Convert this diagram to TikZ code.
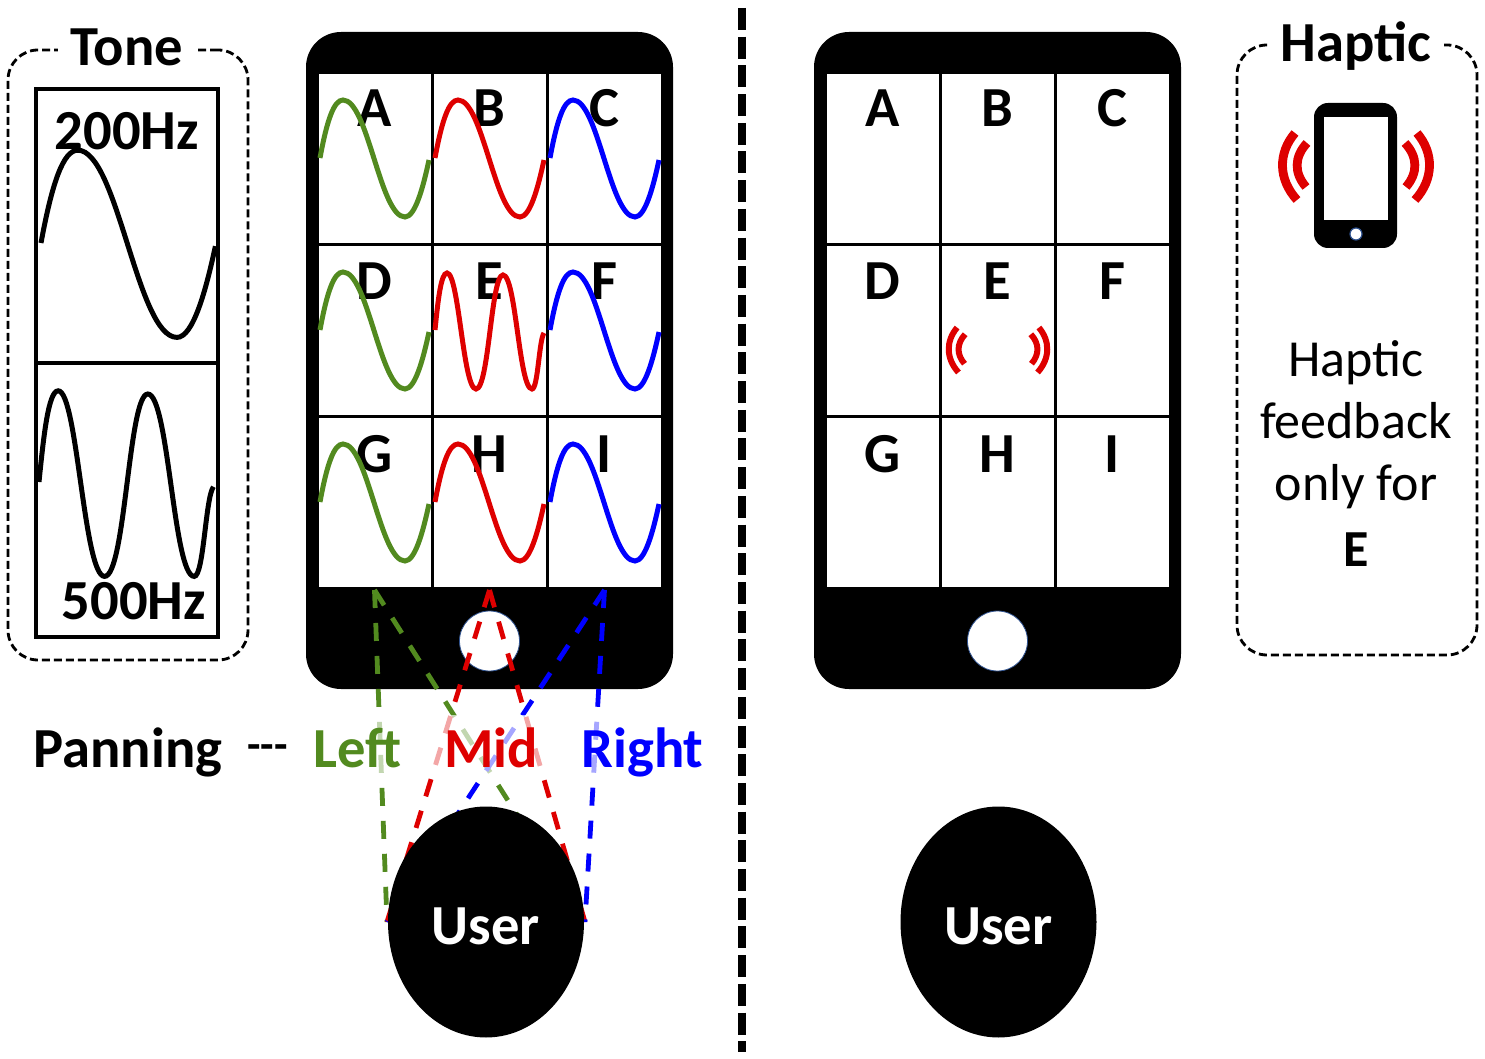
\documentclass[tikz,border=0pt]{standalone}
\usepackage{fontspec}
\setmainfont{Carlito}
\usetikzlibrary{shapes.geometric}
\definecolor{wgreen}{HTML}{528A1F}
\definecolor{wred}{HTML}{DE0000}
\definecolor{wblue}{HTML}{0000FF}
\definecolor{homeline}{HTML}{2F528F}
\tikzset{
  lowwave/.pic={\draw[line width=2.5pt] (0,0) .. controls (7,-38) and (14,-58) .. (23,-58)
    .. controls (48,-58) and (60,59) .. (85,59) .. controls (95,59) and (103,30) .. (109,2);},
  highwave/.pic={\draw[line width=2.5pt] (0,0) .. controls (3,-30) and (6,-57) .. (12,-57)
    .. controls (24,-57) and (28,59) .. (41,59) .. controls (54,59) and (56,-55) .. (68,-55)
    .. controls (81,-55) and (84,59) .. (97,59) .. controls (103,59) and (104,10) .. (109,3);},
  buzz/.pic={\draw[wred] (-61,-32) .. controls (-78,-12) and (-78,14) .. (-59,35);
    \draw[wred] (-49,-22) .. controls (-62,-8) and (-62,8) .. (-50,22);}
}
\begin{document}
\begin{tikzpicture}[x=.5pt,y=-.5pt,
  bigtxt/.style={font=\fontsize{26}{31}\selectfont,inner sep=0pt,anchor=base},
  boldtxt/.style={bigtxt,font=\fontsize{28.3}{33}\selectfont\bfseries},
  dashbox/.style={draw,line width=1.4pt,dash pattern=on 4pt off 2pt,rounded corners=15pt,
    minimum width=120pt,minimum height=305pt,inner sep=0pt},
  boxtitle/.style={boldtxt,fill=white,inner xsep=6.5pt,inner ysep=3pt},
  phonebody/.style={fill=black,rounded corners=17.5pt,minimum width=183.5pt,minimum height=328.5pt,inner sep=0pt},
  homekey/.style={circle,fill=white,draw=homeline,line width=.4pt,minimum size=30pt,inner sep=0pt},
  cellbox/.style={draw,fill=white,line width=1.5pt,minimum width=57.5pt,minimum height=86pt,inner sep=0pt},
  toneline/.style={draw,line width=1.6pt,fill=white,minimum width=91pt,inner sep=0pt},
  userhead/.style={ellipse,fill=black,text=white,font=\fontsize{28.3}{33}\selectfont\bfseries,
    text height=22pt,text depth=0pt,minimum width=98pt,minimum height=115.5pt,inner sep=0pt},
  panline/.style={line width=2.4pt,dash pattern=on 9pt off 7.5pt},
  band/.style={fill=white,fill opacity=.65,minimum width=197.5pt,minimum height=31.5pt,inner sep=0pt}]
\useasboundingbox (0,0) rectangle (1485,1059);
% Tone box
\node[dashbox] (toneBox) at (128,355) {};
\node[boxtitle] (toneTitle) at (127,66) {Tone};
\node[toneline,minimum height=137pt] (toneHigh) at (127,226) {};
\node[toneline,minimum height=137pt] (toneLow) at (127,500) {};
\pic[scale=1.6] at (41,243) {lowwave};
\pic[scale=1.6] at (39,482) {highwave};
\node[boldtxt] (toneA) at (127,150) {200Hz};
\node[boldtxt] (toneB) at (134,619) {500Hz};
% The two phones
\foreach \p/\x in {L/489.5,R/997.5} {
  \node[phonebody] (phone\p) at (\x,360.5) {};
  \node[homekey] (home\p) at (\x,641) {};
}
\foreach \p/\x in {L/374.5,R/882.5} {
  \foreach \l/\c/\y/\b in {A/0/158.5/127,B/1/158.5/127,C/2/158.5/127,D/0/330.5/300,E/1/330.5/300,
    F/2/330.5/300,G/0/502.5/473,H/1/502.5/473,I/2/502.5/473} {
    \node[cellbox] (cell\p\l) at (\x+115*\c,\y) {};
    \node[boldtxt] (text\p\l) at (\x+115*\c,\b) {\l};
  }
}
% Waves of the left phone
\foreach \x/\y/\c in {320/158/wgreen,320/330/wgreen,320/502/wgreen,435/158/wred,435/502/wred,
  550/158/wblue,550/330/wblue,550/502/wblue}
  \pic[color=\c] at (\x,\y) {lowwave};
\pic[color=wred] at (435,330) {highwave};
% Vibration marks
\pic[line width=3pt,scale=.67] at (998,349) {buzz};
\pic[line width=3pt,xscale=-.67,yscale=.67] at (998,349) {buzz};
% Divider
\coordinate (divTop) at (742,8);
\coordinate (divEnd) at (742,1052);
\draw[line width=3.6pt,dash pattern=on 11pt off 3.35pt] (divTop) -- (divEnd);
% Panning lines run to both ears
\coordinate (earL) at (387,922);
\coordinate (earR) at (585,922);
\foreach \l/\c in {G/wgreen,H/wred,I/wblue} {
  \draw[panline,color=\c] (cellL\l.south) -- (earL);
  \draw[panline,color=\c] (cellL\l.south) -- (earR);
}
\node[band] (panBand) at (507.5,746.5) {};
\node[userhead] (userL) at (486,922) {User};
\node[userhead] (userR) at (998.5,922) {User};
\node[boldtxt,anchor=base west] (panText) at (33,767) {Panning};
\node[boldtxt,anchor=base west,font=\fontsize{22}{26}\selectfont\bfseries] (panDash) at (247,759) {-{}-{}-};
\node[boldtxt,anchor=base west,text=wgreen] (panLeft) at (313,767) {Left};
\node[boldtxt,anchor=base west,text=wred] (panMid) at (444,767) {Mid};
\node[boldtxt,anchor=base west,text=wblue] (panRight) at (581,767) {Right};
% Haptic box
\node[dashbox] (hapBox) at (1357,350) {};
\node[boxtitle] (hapTitle) at (1356,62) {Haptic};
\node[fill=black,rounded corners=7pt,minimum width=41.5pt,minimum height=72.5pt,inner sep=0pt] (iconBody) at (1355.5,175.5) {};
\node[fill=white,minimum width=32pt,minimum height=51.5pt,inner sep=0pt] (iconScreen) at (1356,168.5) {};
\node[homekey,minimum size=6pt,line width=.6pt] (iconHome) at (1356,234) {};
\pic[line width=4.4pt] at (1356,165) {buzz};
\pic[line width=4.4pt,xscale=-1] at (1356,165) {buzz};
\node[bigtxt,anchor=center,align=center] (hapText) at (1356,454)
  {Haptic\\feedback\\only for\\[2pt]\textbf{E}};
\end{tikzpicture}
\end{document}
